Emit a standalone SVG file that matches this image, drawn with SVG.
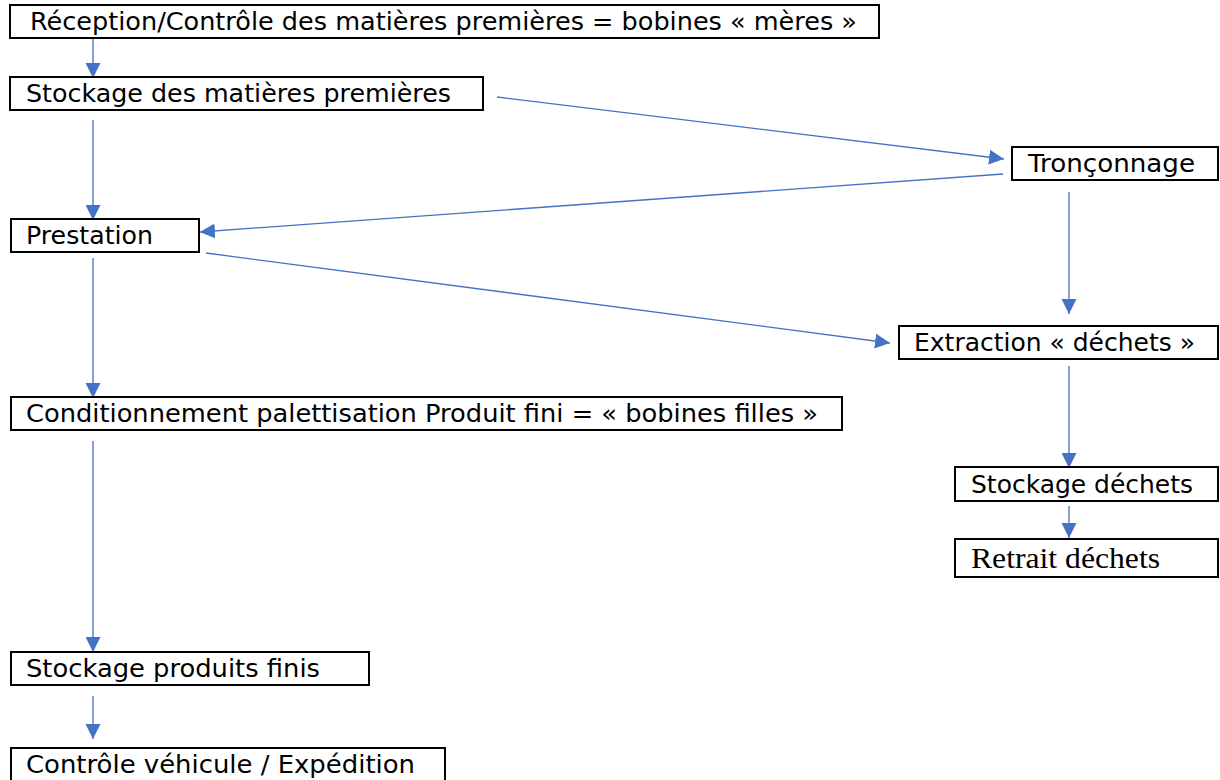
<svg xmlns="http://www.w3.org/2000/svg" width="1220" height="780" viewBox="0 0 1220 780">
<style>
.box{fill:#fff;stroke:#000;stroke-width:2}
.t{font-family:"DejaVu Sans","Liberation Sans",sans-serif;font-size:24px;fill:#000}
.ts{font-family:"Liberation Serif","Times New Roman",serif;font-size:30px;fill:#000}
.c{stroke:#4472C4;stroke-width:1.3;fill:none;marker-end:url(#ah)}
</style>
<defs>
<marker id="ah" markerUnits="userSpaceOnUse" markerWidth="16" markerHeight="16" refX="15" refY="7.5" orient="auto">
<path d="M0,0 L15,7.5 L0,15 z" fill="#4472C4"/>
</marker>
</defs>
<rect width="1220" height="780" fill="#fff"/>
<g id="connectors">
<line class="c" x1="93" y1="38" x2="93" y2="78"/>
<line class="c" x1="93" y1="120" x2="93" y2="220"/>
<line class="c" x1="497" y1="97" x2="1004" y2="159"/>
<line class="c" x1="1003" y1="174" x2="200" y2="232"/>
<line class="c" x1="206" y1="253" x2="890" y2="343"/>
<line class="c" x1="93" y1="258" x2="93" y2="398"/>
<line class="c" x1="1069" y1="192" x2="1069" y2="314"/>
<line class="c" x1="1069" y1="366" x2="1069" y2="468"/>
<line class="c" x1="1069" y1="506" x2="1069" y2="538"/>
<line class="c" x1="93" y1="441" x2="93" y2="652"/>
<line class="c" x1="93" y1="696" x2="93" y2="739"/>
</g>
<g id="n1"><rect class="box" x="10" y="5" width="869" height="33"/><text class="t" x="30" y="30" textLength="827" lengthAdjust="spacingAndGlyphs">Réception/Contrôle des matières premières = bobines « mères »</text></g>
<g id="n2"><rect class="box" x="10" y="77" width="473" height="33"/><text class="t" x="26" y="102" textLength="425" lengthAdjust="spacingAndGlyphs">Stockage des matières premières</text></g>
<g id="n3"><rect class="box" x="1012" y="147" width="206" height="33"/><text class="t" x="1028" y="172" textLength="167" lengthAdjust="spacingAndGlyphs">Tronçonnage</text></g>
<g id="n4"><rect class="box" x="11" y="219" width="188" height="33"/><text class="t" x="26" y="244" textLength="127" lengthAdjust="spacingAndGlyphs">Prestation</text></g>
<g id="n5"><rect class="box" x="899" y="326" width="319" height="33"/><text class="t" x="914" y="351" textLength="281" lengthAdjust="spacingAndGlyphs">Extraction « déchets »</text></g>
<g id="n6"><rect class="box" x="11" y="397" width="831" height="33"/><text class="t" x="26" y="422" textLength="792" lengthAdjust="spacingAndGlyphs">Conditionnement palettisation Produit fini = « bobines filles »</text></g>
<g id="n7"><rect class="box" x="955" y="467" width="263" height="34"/><text class="t" x="971" y="493" textLength="222" lengthAdjust="spacingAndGlyphs">Stockage déchets</text></g>
<g id="n8"><rect class="box" x="955" y="539" width="263" height="38"/><text class="ts" x="971" y="568" textLength="189" lengthAdjust="spacingAndGlyphs">Retrait déchets</text></g>
<g id="n9"><rect class="box" x="11" y="652" width="358" height="33"/><text class="t" x="26" y="677" textLength="294" lengthAdjust="spacingAndGlyphs">Stockage produits finis</text></g>
<g id="n10"><rect class="box" x="11" y="748" width="434" height="33"/><text class="t" x="26" y="773" textLength="389" lengthAdjust="spacingAndGlyphs">Contrôle véhicule / Expédition</text></g>
</svg>
